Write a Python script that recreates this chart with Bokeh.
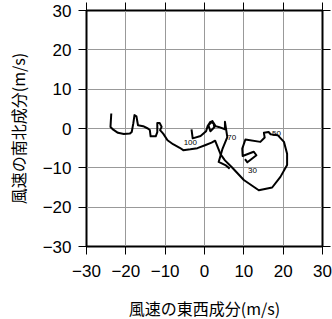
from bokeh.plotting import figure
from bokeh.models import Range1d, LinearAxis, FixedTicker
from bokeh.core.properties import value
from bokeh.embed import file_html
from bokeh.resources import INLINE

# Hodograph: east-west (u) and north-south (v) wind components, m/s
u_main = [-23.7, -23.9, -23.2, -22.0, -20.5, -19.0, -18.5, -18.1, -17.8, -17.3,
          -17.1, -16.9, -15.6, -14.4, -13.9, -13.7, -12.4, -12.0, -12.0, -11.4,
          -10.9, -11.3, -10.5, -9.4, -8.0, -6.3, -5.4, -3.6, -1.8, 0.3,
          1.8, 2.7, 4.1, 5.2, 6.9, 10.0, 13.8, 17.2, 19.3, 21.0,
          21.0, 20.2, 18.6, 16.8, 16.3, 15.1, 15.3, 14.2, 10.4, 9.6,
          9.7, 12.5, 13.2, 10.9, 10.3]
v_main = [3.8, 0.4, -0.3, -1.1, -1.4, -1.3, -0.9, 1.3, 3.4, 3.1,
          1.9, 0.8, 0.6, 0.0, -0.4, -2.0, -2.0, -0.9, 1.4, 1.4,
          0.4, -0.4, -1.3, -3.0, -4.0, -4.9, -5.5, -5.3, -5.0, -4.2,
          -3.6, -3.1, -6.6, -8.1, -9.8, -13.1, -15.7, -15.0, -12.3, -9.3,
          -6.4, -3.4, -1.7, -1.45, -0.9, -1.1, -2.3, -3.4, -2.8, -5.1,
          -7.0, -5.9, -6.8, -8.6, -7.8]

u_hook = [-3.3, -3.0, -1.0, 0.4, 0.8, 1.5, 2.3, 2.5, 1.5, 1.0,
          2.0, 2.8, 3.6, 5.2, 5.2, 5.8, 4.6, 3.6, 5.3, 6.4]
v_hook = [-0.2, -2.5, -1.9, -0.7, 0.6, 1.7, 1.3, 0.3, -0.7, 0.8,
          1.9, 0.6, 0.4, -0.2, 1.7, -2.2, -5.1, -8.5, -9.3, -10.2]

level_u = [-3.6, 6.9, 18.3, 12.2]
level_v = [-3.5, -2.2, -1.3, -10.6]
level_text = ["100", "70", "50", "30"]

ticks = [-30, -20, -10, 0, 10, 20, 30]
tick_labels = {t: (("\u2212" + str(-t)) if t < 0 else str(t)) for t in ticks}
blank_labels = {t: "" for t in ticks}

x_title = "風速の東西成分(m/s)"
y_title = "風速の南北成分(m/s)"

p = figure(frame_width=236, frame_height=236,
           min_border_left=86, min_border_right=10,
           min_border_top=10, min_border_bottom=73,
           x_range=Range1d(-30, 30), y_range=Range1d(-30, 30),
           output_backend="svg", toolbar_location=None,
           x_axis_label=x_title, y_axis_label=y_title)

p.background_fill_color = "white"
p.border_fill_color = "white"
p.outline_line_color = "black"
p.outline_line_width = 2

for ax in (p.xaxis[0], p.yaxis[0]):
    ax.ticker = FixedTicker(ticks=ticks)
    ax.major_label_overrides = tick_labels
    ax.major_label_text_font = "Liberation Sans"
    ax.major_label_text_font_size = "17px"
    ax.major_label_text_color = "black"
    ax.major_tick_in = 0
    ax.major_tick_out = 8
    ax.major_tick_line_color = "black"
    ax.minor_tick_line_color = None
    ax.axis_line_color = "black"
    ax.axis_label_text_font = "Noto Sans CJK JP"
    ax.axis_label_text_font_size = "16px"
    ax.axis_label_text_font_style = "normal"
    ax.axis_label_text_color = "black"

p.xaxis[0].major_label_standoff = 10
p.xaxis[0].axis_label_standoff = 16
p.yaxis[0].major_label_standoff = 7
p.yaxis[0].axis_label_standoff = 10

for loc in ("above", "right"):
    ax = LinearAxis(ticker=FixedTicker(ticks=ticks),
                    major_label_overrides=blank_labels,
                    major_label_text_font_size="6px",
                    major_label_standoff=0,
                    major_tick_in=0, major_tick_out=8,
                    major_tick_line_color="black",
                    minor_tick_line_color=None,
                    axis_line_color="black")
    p.add_layout(ax, loc)

p.grid.ticker = FixedTicker(ticks=ticks)
p.grid.grid_line_color = "#999999"
p.grid.grid_line_width = 1

p.line(u_main, v_main, line_color="black", line_width=2, line_join="round")
p.line(u_hook, v_hook, line_color="black", line_width=2, line_join="round")
p.text(level_u, level_v, text=level_text, text_font=value("Liberation Sans"),
       text_font_size="8px", text_align="center", text_baseline="middle",
       text_color="black")

open("out.html", "w").write(file_html(p, INLINE))
